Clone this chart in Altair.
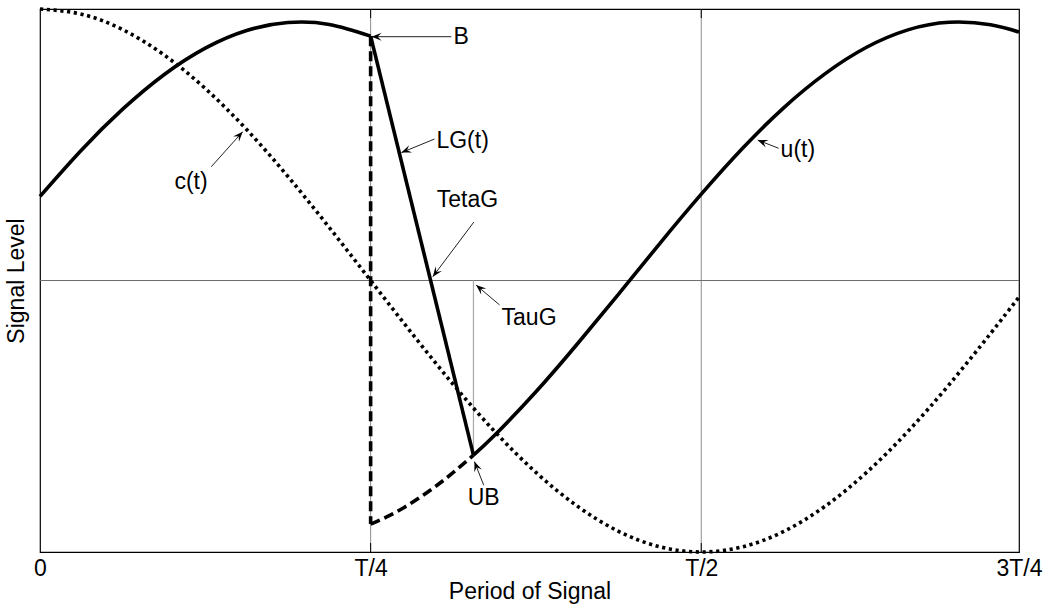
import altair as alt
import pandas as pd
import numpy as np

# x in quarter periods (T/4 = 1), y in signal units
XMAX = 2.961
X_TICKS = [0, 1, 2, XMAX]
X_TICK_LABELS = ["0", "T/4", "T/2", "3T/4"]

# c(t) dotted curve
Q_C = [0, 0.125, 0.25, 0.375, 0.5, 0.625, 0.75, 0.875, 1.0, 1.125, 1.25, 1.375, 1.5,
       1.625, 1.75, 1.875, 2.0, 2.125, 2.25, 2.375, 2.5, 2.625, 2.75, 2.875, 2.961]
C_VALS = [1.000, 0.981, 0.924, 0.831, 0.707, 0.556, 0.383, 0.195, 0.0, -0.195, -0.383, -0.556, -0.707,
          -0.831, -0.924, -0.981, -1.000, -0.981, -0.924, -0.831, -0.707, -0.556, -0.383, -0.195, -0.061]

# u(t) before the jump (solid)
Q_U1 = [0, 0.125, 0.25, 0.375, 0.5, 0.625, 0.75, 0.875, 1.0]
U1_VALS = [0.310, 0.480, 0.631, 0.758, 0.856, 0.921, 0.950, 0.943, 0.900]

# u(t) after the jump, dashed part (T/4 -> UB)
Q_U2D = [1.0, 1.05, 1.1, 1.15, 1.2, 1.25, 1.311]
U2D_VALS = [-0.897, -0.870, -0.837, -0.798, -0.755, -0.707, -0.643]

# u(t) after UB (solid)
Q_U2 = [1.311, 1.375, 1.5, 1.625, 1.75, 1.875, 2.0, 2.125, 2.25, 2.375, 2.5, 2.625, 2.75, 2.875, 2.961]
U2_VALS = [-0.643, -0.570, -0.410, -0.234, -0.050, 0.137, 0.318, 0.487, 0.637, 0.762, 0.859, 0.923, 0.951, 0.942, 0.915]

# key points
B_Q, B_V = 1.0, 0.900
UB_Q, UB_V = 1.311, -0.643
JUMP_LOW_V = -0.897

GRID_Q = [1, 2]

# annotations
ANN_LABELS = ["B", "LG(t)", "TetaG", "TauG", "UB", "c(t)", "u(t)"]
ANN_TIP_Q = [1.003, 1.093, 1.188, 1.319, 1.314, 0.613, 2.171]
ANN_TIP_V = [0.898, 0.471, 0.014, -0.017, -0.667, 0.548, 0.517]
ANN_TAIL_Q = [1.244, 1.193, 1.312, 1.390, 1.342, 0.518, 2.234]
ANN_TAIL_V = [0.898, 0.521, 0.215, -0.090, -0.754, 0.419, 0.487]
ANN_TEXT_Q = [1.251, 1.199, 1.200, 1.396, 1.342, 0.507, 2.240]
ANN_TEXT_V = [0.898, 0.514, 0.296, -0.138, -0.801, 0.364, 0.479]
ANN_ALIGN = ["left", "left", "left", "left", "center", "right", "left"]

W, H = 979, 543
FONT = "Liberation Sans"
FS = 23

PX_X = W / XMAX
PX_Y = H / 2.0

x_scale = alt.Scale(domain=[0, XMAX], nice=False, zero=False)
y_scale = alt.Scale(domain=[-1, 1], nice=False, zero=False)

label_expr = ("datum.value < 0.5 ? '" + X_TICK_LABELS[0] + "' : datum.value < 1.5 ? '" + X_TICK_LABELS[1] +
              "' : datum.value < 2.5 ? '" + X_TICK_LABELS[2] + "' : '" + X_TICK_LABELS[3] + "'")

x_axis = alt.Axis(values=X_TICKS, labelExpr=label_expr, title="Period of Signal", grid=False,
                  domain=False, ticks=False, labelPadding=5, labelFontSize=FS, titleFontSize=FS,
                  labelFont=FONT, titleFont=FONT, labelColor="black", titleColor="black",
                  titleFontWeight="normal", titlePadding=0, labelOverlap=False, labelFlush=False,
                  labelBound=False)
y_axis = alt.Axis(title="Signal Level", labels=False, ticks=False, domain=False, grid=False,
                  titleFontSize=FS, titleFont=FONT, titleColor="black", titleFontWeight="normal",
                  titlePadding=12)


def X(f="q"):
    return alt.X(f + ":Q", scale=x_scale, axis=x_axis)


def Y(f="v"):
    return alt.Y(f + ":Q", scale=y_scale, axis=y_axis)


def line_df(q, v):
    return pd.DataFrame({"q": q, "v": v})


# grid lines
grid = alt.Chart(pd.DataFrame({"q": GRID_Q, "v": [-1] * len(GRID_Q), "v2": [1] * len(GRID_Q)})).mark_rule(
    color="#8c8c8c", strokeWidth=1).encode(x=X(), y=Y(), y2="v2:Q")

zero = alt.Chart(pd.DataFrame({"q": [0], "q2": [XMAX], "v": [0]})).mark_rule(
    color="#6e6e6e", strokeWidth=1.2).encode(x=X(), x2="q2:Q", y=Y())

ticks_df = pd.DataFrame({"q": GRID_Q * 2, "v": [-1] * 2 + [1] * 2, "v2": [-1 + 9 / PX_Y] * 2 + [1 - 9 / PX_Y] * 2})
ticks = alt.Chart(ticks_df).mark_rule(color="black", strokeWidth=1).encode(x=X(), y=Y(), y2="v2:Q")

taug = alt.Chart(pd.DataFrame({"q": [UB_Q], "v": [0], "v2": [UB_V]})).mark_rule(
    color="#a8a8a8", strokeWidth=1.2).encode(x=X(), y=Y(), y2="v2:Q")

c_line = alt.Chart(line_df(Q_C, C_VALS)).mark_line(
    color="black", strokeWidth=3.6, strokeDash=[3.2, 3.6], interpolate="natural", strokeCap="butt").encode(
    x=X(), y=Y(), order="q:Q")

u1 = alt.Chart(line_df(Q_U1, U1_VALS)).mark_line(
    color="black", strokeWidth=3.6, interpolate="natural").encode(x=X(), y=Y(), order="q:Q")

u2 = alt.Chart(line_df(Q_U2, U2_VALS)).mark_line(
    color="black", strokeWidth=3.6, interpolate="natural").encode(x=X(), y=Y(), order="q:Q")

u2d = alt.Chart(line_df(Q_U2D, U2D_VALS)).mark_line(
    color="black", strokeWidth=3.6, strokeDash=[10, 5], interpolate="natural", strokeCap="butt").encode(
    x=X(), y=Y(), order="q:Q")

jump = alt.Chart(line_df([B_Q, B_Q], [B_V, JUMP_LOW_V])).mark_line(
    color="black", strokeWidth=3.6, strokeDash=[10, 5], strokeCap="butt").encode(
    x=X(), y=Y(), order=alt.Order("v:Q", sort="descending"))

lg = alt.Chart(line_df([B_Q, UB_Q], [B_V, UB_V])).mark_line(
    color="black", strokeWidth=3.6).encode(x=X(), y=Y(), order="q:Q")

# annotations
ann = pd.DataFrame({
    "label": ANN_LABELS, "tq": ANN_TIP_Q, "tv": ANN_TIP_V, "sq": ANN_TAIL_Q, "sv": ANN_TAIL_V,
    "xq": ANN_TEXT_Q, "xv": ANN_TEXT_V, "align": ANN_ALIGN,
})
dx = (ann["tq"] - ann["sq"]) * PX_X
dy = -(ann["tv"] - ann["sv"]) * PX_Y
ann["ang"] = np.mod(np.degrees(np.arctan2(dx, -dy)), 360)

arrow_lines = alt.Chart(ann).mark_rule(color="#222222", strokeWidth=1).encode(
    x=X("sq"), y=Y("sv"), x2="tq:Q", y2="tv:Q")

DART = "M0,0 L0.4,1 L0,0.6 L-0.4,1 Z"
heads = alt.Chart(ann).mark_point(shape=DART, filled=True, size=400, color="black", opacity=1,
                                  strokeWidth=0).encode(
    x=X("tq"), y=Y("tv"), angle=alt.Angle("ang:Q", scale=None))

texts = []
for al in ["left", "center", "right"]:
    texts.append(alt.Chart(ann).transform_filter(alt.datum.align == al).mark_text(
        align=al, baseline="middle", font=FONT, fontSize=FS, color="black").encode(
        x=X("xq"), y=Y("xv"), text="label:N"))

chart = alt.layer(grid, zero, taug, ticks, c_line, u1, u2, u2d, jump, lg, arrow_lines, heads, *texts).properties(
    width=W, height=H,
    padding={"left": 40, "top": 9, "right": 30, "bottom": 56},
    autosize=alt.AutoSizeParams(type="none"),
    background="white",
).configure_view(stroke="black", strokeWidth=1.2)

chart.save("out.html", embed_options={"renderer": "svg", "actions": False})
